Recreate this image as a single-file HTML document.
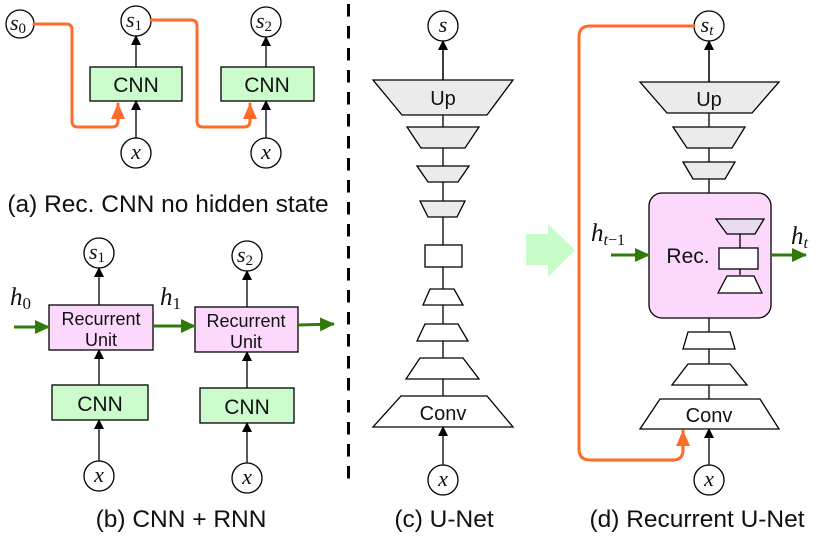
<!DOCTYPE html>
<html><head><meta charset="utf-8"><style>
html,body{margin:0;padding:0;background:#fff;}
svg{display:block;}
.t{font-family:"Liberation Sans",sans-serif;fill:#111;}
.m{font-family:"Liberation Serif",serif;font-style:italic;fill:#111;}
</style></head><body>
<svg width="831" height="540" viewBox="0 0 831 540" xmlns="http://www.w3.org/2000/svg">
<defs>
<marker id="ab" markerWidth="10" markerHeight="12" refX="8" refY="5" orient="auto" markerUnits="userSpaceOnUse"><path d="M0,0 L10,5 L0,10 z" fill="#000"/></marker>
<marker id="ag" markerWidth="16" markerHeight="14" refX="14" refY="7" orient="auto" markerUnits="userSpaceOnUse"><path d="M0,0 L15,7 L0,14 z" fill="#2f7a0a"/></marker>
<marker id="ao" markerWidth="18" markerHeight="16" refX="15" refY="7" orient="auto" markerUnits="userSpaceOnUse"><path d="M0,0 L16,7 L0,14 z" fill="#ff6b2b"/></marker>
</defs>
<g stroke="#000" stroke-width="1.3" fill="none">
<!-- panel a -->
<circle cx="20" cy="24" r="14" fill="#fff"/>
<circle cx="136" cy="21" r="15" fill="#fff"/>
<circle cx="266" cy="22" r="15" fill="#fff"/>
<rect x="90" y="67" width="92" height="34" fill="#ccfccc"/>
<rect x="221" y="67" width="93" height="34" fill="#ccfccc"/>
<circle cx="136" cy="153" r="15" fill="#fff"/>
<circle cx="266" cy="153" r="15" fill="#fff"/>
<line x1="136" y1="67" x2="136" y2="37" marker-end="url(#ab)"/>
<line x1="266" y1="67" x2="266" y2="38" marker-end="url(#ab)"/>
<line x1="136" y1="138" x2="136" y2="102" marker-end="url(#ab)"/>
<line x1="266" y1="138" x2="266" y2="102" marker-end="url(#ab)"/>
<!-- panel b -->
<circle cx="99" cy="253" r="15" fill="#fff"/>
<circle cx="247" cy="256" r="15" fill="#fff"/>
<rect x="49" y="305" width="104" height="45" fill="#fcd9fc"/>
<rect x="195" y="307" width="103" height="45" fill="#fcd9fc"/>
<rect x="52" y="385" width="96" height="35" fill="#ccfccc"/>
<rect x="200" y="388" width="94" height="35" fill="#ccfccc"/>
<circle cx="99" cy="476" r="15" fill="#fff"/>
<circle cx="247" cy="478" r="15" fill="#fff"/>
<line x1="99" y1="305" x2="99" y2="269" marker-end="url(#ab)"/>
<line x1="247" y1="307" x2="247" y2="272" marker-end="url(#ab)"/>
<line x1="99" y1="385" x2="99" y2="351" marker-end="url(#ab)"/>
<line x1="247" y1="388" x2="247" y2="353" marker-end="url(#ab)"/>
<line x1="99" y1="461" x2="99" y2="421" marker-end="url(#ab)"/>
<line x1="247" y1="463" x2="247" y2="424" marker-end="url(#ab)"/>
<!-- panel c -->
<line x1="443" y1="396" x2="443" y2="42"/>
<circle cx="443" cy="26" r="15" fill="#fff"/>
<line x1="443" y1="80" x2="443" y2="42" marker-end="url(#ab)"/>
<polygon points="373,80 513,80 487,115 402,115" fill="#ebebeb"/>
<polygon points="407,127 479,127 465,148 421,148" fill="#ebebeb"/>
<polygon points="417,166 469,166 458,182 428,182" fill="#ebebeb"/>
<polygon points="420,201 465,201 457,217 428,217" fill="#ebebeb"/>
<rect x="425" y="245" width="37" height="22" fill="#fff"/>
<polygon points="430,289 454,289 463,305 423,305" fill="#fff"/>
<polygon points="425,324 458,324 468,341 417,341" fill="#fff"/>
<polygon points="420,358 463,358 479,379 406,379" fill="#fff"/>
<polygon points="401,396 487,396 513,427 373,427" fill="#fff"/>
<circle cx="443" cy="480" r="15" fill="#fff"/>
<line x1="443" y1="465" x2="443" y2="428" marker-end="url(#ab)"/>
<!-- panel d -->
<line x1="709" y1="399" x2="709" y2="42"/>
<circle cx="709" cy="26" r="15" fill="#fff"/>
<line x1="709" y1="82" x2="709" y2="42" marker-end="url(#ab)"/>
<polygon points="640,82 779,82 752,113 667,113" fill="#ebebeb"/>
<polygon points="673,127 745,127 732,148 687,148" fill="#ebebeb"/>
<polygon points="683,162 735,162 725,179 693,179" fill="#ebebeb"/>
<rect x="649" y="193" width="122" height="125" rx="13" fill="#fcd9fc"/>
<line x1="740" y1="234" x2="740" y2="275"/>
<polygon points="716,219 764,219 755,234 727,234" fill="#eadcf0"/>
<rect x="719" y="248" width="39" height="21" fill="#fff"/>
<polygon points="727,276 754,276 762,293 718,293" fill="#fff"/>
<polygon points="688,332 730,332 735,349 683,349" fill="#fff"/>
<polygon points="688,364 730,364 747,385 672,385" fill="#fff"/>
<polygon points="660,399 760,399 779,429 640,429" fill="#fff"/>
<circle cx="709" cy="480" r="15" fill="#fff"/>
<line x1="709" y1="465" x2="709" y2="430" marker-end="url(#ab)"/>
</g>
<!-- orange paths -->
<g stroke="#ff6b2b" stroke-width="3" fill="none" stroke-linecap="round">
<path d="M34,24 H66 Q72,24 72,30 V121 Q72,127 78,127 H112 Q118,127 118,121 V104" marker-end="url(#ao)"/>
<path d="M151,20 H191 Q197,20 197,26 V121 Q197,127 203,127 H244 Q250,127 250,121 V104" marker-end="url(#ao)"/>
<path d="M694,26 H590 Q579,26 579,37 V449 Q579,460 590,460 H673 Q683,460 683,450 V431" marker-end="url(#ao)"/>
</g>
<!-- green arrows -->
<g stroke="#2f7a0a" stroke-width="3" fill="none">
<line x1="14" y1="327" x2="49" y2="327" marker-end="url(#ag)"/>
<line x1="153" y1="326" x2="195" y2="326" marker-end="url(#ag)"/>
<line x1="298" y1="325" x2="334" y2="324" marker-end="url(#ag)"/>
<line x1="611" y1="255" x2="649" y2="255" marker-end="url(#ag)"/>
<line x1="771" y1="255" x2="806" y2="255" marker-end="url(#ag)"/>
</g>
<!-- big light green arrow -->
<polygon points="526,234 548,234 548,224 575,250 548,277 548,265 526,265" fill="#c8fcc8"/>
<!-- dashed divider -->
<line x1="348.5" y1="4" x2="348.5" y2="479" stroke="#000" stroke-width="3" stroke-dasharray="12.5,9.5"/>
<!-- text -->
<g class="m" font-size="22" text-anchor="middle">
<text x="18" y="30">s<tspan font-size="15" font-style="normal" dy="3">0</tspan></text>
<text x="134" y="27">s<tspan font-size="15" font-style="normal" dy="3">1</tspan></text>
<text x="264" y="28">s<tspan font-size="15" font-style="normal" dy="3">2</tspan></text>
<text x="136" y="159">x</text>
<text x="266" y="159">x</text>
<text x="97" y="259">s<tspan font-size="15" font-style="normal" dy="3">1</tspan></text>
<text x="245" y="262">s<tspan font-size="15" font-style="normal" dy="3">2</tspan></text>
<text x="99" y="482">x</text>
<text x="247" y="484">x</text>
<text x="443" y="32">s</text>
<text x="443" y="486">x</text>
<text x="707" y="32">s<tspan font-size="15" dy="3">t</tspan></text>
<text x="709" y="486">x</text>
</g>
<g class="m" font-size="25">
<text x="10" y="305">h<tspan font-size="17" font-style="normal" dy="4">0</tspan></text>
<text x="160" y="305">h<tspan font-size="17" font-style="normal" dy="4">1</tspan></text>
<text x="591" y="241">h<tspan font-size="16" dy="4">t</tspan><tspan font-size="16" font-style="normal">−1</tspan></text>
<text x="791" y="244">h<tspan font-size="16" dy="4">t</tspan></text>
</g>
<g class="t" text-anchor="middle">
<text x="136" y="92" font-size="21">CNN</text>
<text x="267" y="92" font-size="21">CNN</text>
<text x="101" y="325" font-size="18">Recurrent</text>
<text x="101" y="346" font-size="18">Unit</text>
<text x="246" y="327" font-size="18">Recurrent</text>
<text x="246" y="348" font-size="18">Unit</text>
<text x="100" y="411" font-size="21">CNN</text>
<text x="247" y="414" font-size="21">CNN</text>
<text x="443" y="105" font-size="20">Up</text>
<text x="443" y="420" font-size="20">Conv</text>
<text x="709" y="106" font-size="20">Up</text>
<text x="709" y="422" font-size="20">Conv</text>
<text x="688" y="263" font-size="21">Rec.</text>
<text x="168" y="212" font-size="24.5">(a) Rec. CNN no hidden state</text>
<text x="181" y="527" font-size="24.5">(b) CNN + RNN</text>
<text x="444" y="527" font-size="24.5">(c) U-Net</text>
<text x="697" y="527" font-size="24.5">(d) Recurrent U-Net</text>
</g>
</svg>
</body></html>
